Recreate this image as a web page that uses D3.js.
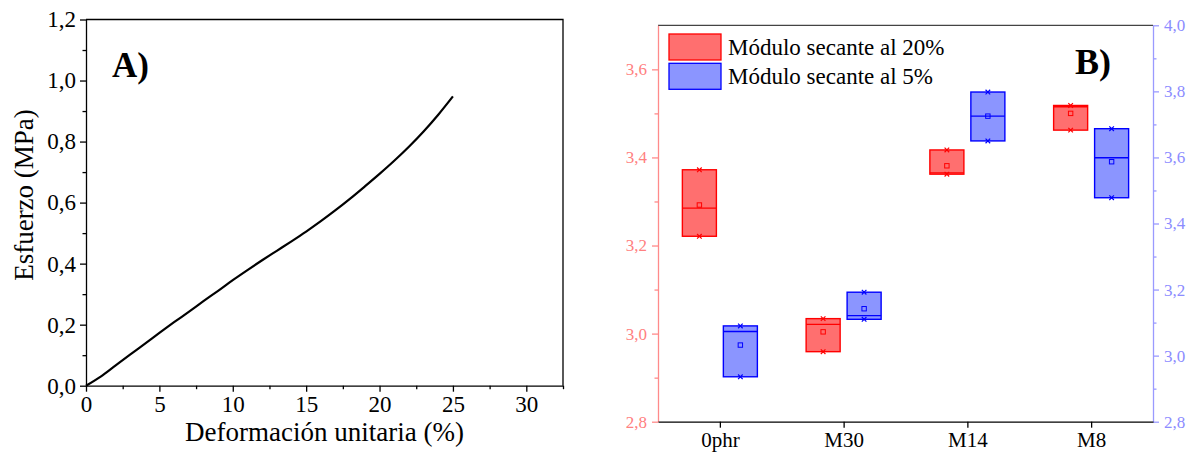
<!DOCTYPE html>
<html>
<head>
<meta charset="utf-8">
<script src="https://cdn.jsdelivr.net/npm/d3@7"></script>
<style>
  body { margin: 0; background: #fff; }
  svg { display: block; }
  .axA .domain, .axA line { stroke: #000; stroke-width: 1.3px; }
  .axL .domain, .axL line { stroke: #ff8a8a; stroke-width: 1.3px; }
  .axR .domain, .axR line { stroke: #9a9aff; stroke-width: 1.3px; }
  .axX .domain, .axX line { stroke: #000; stroke-width: 1.3px; }
</style>
</head>
<body>
<script>
// panel A: stress-strain curve
var strain = [0, 1, 2, 3, 4, 5, 6, 7, 8, 9, 10, 11, 12, 13, 14, 15, 16, 17, 18, 19, 20, 21, 22, 23, 24, 25];
var stress = [0, 0.030, 0.066, 0.102, 0.137, 0.173, 0.208, 0.242, 0.277, 0.311, 0.346, 0.379, 0.411, 0.442, 0.473, 0.505, 0.539, 0.575, 0.613, 0.653, 0.694, 0.737, 0.783, 0.833, 0.888, 0.948];
var strainTicks = [0, 5, 10, 15, 20, 25, 30];
var stressTicks = [0, 0.2, 0.4, 0.6, 0.8, 1.0, 1.2];

// panel B: secant modulus boxes
var categories = ["0phr", "M30", "M14", "M8"];
var series = ["Módulo secante al 20%", "Módulo secante al 5%"];
var min20 = [3.221, 2.959, 3.362, 3.462];
var max20 = [3.372, 3.034, 3.417, 3.518];
var med20 = [3.285, 3.021, 3.365, 3.515];
var mean20 = [3.292, 3.004, 3.381, 3.500];
var min5 = [2.936, 3.110, 3.650, 3.478];
var max5 = [3.090, 3.192, 3.798, 3.687];
var med5 = [3.073, 3.121, 3.725, 3.599];
var mean5 = [3.032, 3.142, 3.725, 3.587];
var leftTicks = [2.8, 3.0, 3.2, 3.4, 3.6];
var rightTicks = [2.8, 3.0, 3.2, 3.4, 3.6, 3.8, 4.0];

var serif = "'Liberation Serif', 'Times New Roman', serif";
var fmt = function(d) { return d3.format(".1f")(d).replace(".", ","); };

// restyle the tick labels d3 draws in sans-serif
function labels(g, size, colour) {
  g.attr("font-family", serif);
  g.selectAll("text")
    .style("font-family", serif)
    .style("font-size", size + "px")
    .attr("fill", colour);
}

var svg = d3.select("body").append("svg")
    .attr("width", 1195)
    .attr("height", 452)
    .style("font-family", serif);

// ---------- panel A ----------
var xA = d3.scaleLinear().domain([0, 32.5]).range([86, 563]);
var yA = d3.scaleLinear().domain([0, 1.2]).range([385.7, 19.5]);

var gA = svg.append("g");

// minor ticks
gA.append("g").attr("class", "axA")
    .attr("transform", "translate(0," + yA(0) + ")")
    .call(d3.axisBottom(xA).tickValues(d3.range(2.5, 33, 5)).tickSize(3.5).tickFormat(""))
    .select(".domain").remove();
gA.append("g").attr("class", "axA")
    .attr("transform", "translate(" + xA(0) + ",0)")
    .call(d3.axisLeft(yA).tickValues(d3.range(0.1, 1.2, 0.2)).tickSize(3.5).tickFormat(""))
    .select(".domain").remove();

gA.append("g").attr("class", "axA")
    .attr("transform", "translate(0," + yA(0) + ")")
    .call(d3.axisBottom(xA).tickValues(strainTicks).tickSize(6).tickSizeOuter(0).tickPadding(4))
    .call(labels, 23, "#000");
gA.append("g").attr("class", "axA")
    .attr("transform", "translate(" + xA(0) + ",0)")
    .call(d3.axisLeft(yA).tickValues(stressTicks).tickSize(6).tickSizeOuter(0).tickPadding(4).tickFormat(fmt))
    .call(labels, 23, "#000");

// frame top/right
gA.append("path")
    .attr("d", "M" + xA(0) + "," + yA(1.2) + "H" + xA(32.5) + "V" + yA(0))
    .attr("fill", "none").attr("stroke", "#000").attr("stroke-width", 1.3);

gA.append("path")
    .datum(d3.zip(strain, stress))
    .attr("fill", "none")
    .attr("stroke", "#000")
    .attr("stroke-width", 2.2)
    .attr("d", d3.line().curve(d3.curveCatmullRom)
        .x(function(d) { return xA(d[0]); })
        .y(function(d) { return yA(d[1]); }));

gA.append("text")
    .attr("x", (xA(0) + xA(32.5)) / 2).attr("y", 441)
    .attr("text-anchor", "middle")
    .style("font-size", "27px")
    .text("Deformación unitaria (%)");

gA.append("text")
    .attr("transform", "translate(33,195)rotate(-90)")
    .attr("text-anchor", "middle")
    .style("font-size", "27px")
    .text("Esfuerzo (MPa)");

gA.append("text")
    .attr("x", 112).attr("y", 77)
    .style("font-size", "35px").style("font-weight", "bold")
    .text("A)");

// ---------- panel B ----------
var xB = d3.scalePoint().domain(categories).range([658, 1153]).padding(0.5);
var inner = d3.scaleBand().domain(series).range([-37.5, 37.5]).paddingInner(0.17);
var yL = d3.scaleLinear().domain([2.8, 3.7]).range([421.7, 25.3]);
var yR = d3.scaleLinear().domain([2.8, 4.0]).range([421.7, 25.3]);

var gB = svg.append("g");

// top frame
gB.append("line")
    .attr("x1", 658).attr("x2", 1153).attr("y1", yL(3.7)).attr("y2", yL(3.7))
    .attr("stroke", "#444").attr("stroke-width", 1.3);

gB.append("g").attr("class", "axL")
    .attr("transform", "translate(658,0)")
    .call(d3.axisLeft(yL).tickValues(d3.range(2.9, 3.6, 0.2)).tickSize(3.5).tickFormat(""))
    .select(".domain").remove();
gB.append("g").attr("class", "axL")
    .attr("transform", "translate(658,0)")
    .call(d3.axisLeft(yL).tickValues(leftTicks).tickSize(6).tickSizeOuter(0).tickPadding(5).tickFormat(fmt))
    .call(labels, 17, "#ff8080");

gB.append("g").attr("class", "axR")
    .attr("transform", "translate(1153,0)")
    .call(d3.axisRight(yR).tickValues(d3.range(2.9, 4.0, 0.2)).tickSize(3.5).tickFormat(""))
    .select(".domain").remove();
gB.append("g").attr("class", "axR")
    .attr("transform", "translate(1153,0)")
    .call(d3.axisRight(yR).tickValues(rightTicks).tickSize(6).tickSizeOuter(0).tickPadding(5).tickFormat(fmt))
    .call(labels, 17, "#8c8cff");

gB.append("g").attr("class", "axX")
    .attr("transform", "translate(0," + yL(2.8) + ")")
    .call(d3.axisBottom(xB).tickSize(6).tickSizeOuter(0).tickPadding(4))
    .call(labels, 21, "#000");

var groups = [
  {name: series[0], y: yL, min: min20, max: max20, med: med20, mean: mean20, fill: "#ff6f6f", stroke: "#ff0000"},
  {name: series[1], y: yR, min: min5, max: max5, med: med5, mean: mean5, fill: "#8b95ff", stroke: "#0000ff"}
];

groups.forEach(function(s) {
  var rows = categories.map(function(c, i) {
    return {cat: c, min: s.min[i], max: s.max[i], med: s.med[i], mean: s.mean[i]};
  });
  var g = gB.append("g");
  var cx = function(d) { return xB(d.cat) + inner(s.name) + inner.bandwidth() / 2; };

  g.selectAll("rect.box").data(rows).enter().append("rect")
      .attr("x", function(d) { return xB(d.cat) + inner(s.name); })
      .attr("width", inner.bandwidth())
      .attr("y", function(d) { return s.y(d.max); })
      .attr("height", function(d) { return s.y(d.min) - s.y(d.max); })
      .attr("fill", s.fill)
      .attr("stroke", s.stroke)
      .attr("stroke-width", 1.4);

  g.selectAll("line.med").data(rows).enter().append("line")
      .attr("x1", function(d) { return xB(d.cat) + inner(s.name); })
      .attr("x2", function(d) { return xB(d.cat) + inner(s.name) + inner.bandwidth(); })
      .attr("y1", function(d) { return s.y(d.med); })
      .attr("y2", function(d) { return s.y(d.med); })
      .attr("stroke", s.stroke).attr("stroke-width", 1.4);

  // mean square
  g.selectAll("rect.mean").data(rows).enter().append("rect")
      .attr("x", function(d) { return cx(d) - 2.2; })
      .attr("y", function(d) { return s.y(d.mean) - 2.2; })
      .attr("width", 4.4).attr("height", 4.4)
      .attr("fill", "none").attr("stroke", s.stroke).attr("stroke-width", 1);

  // min / max crosses
  var ends = [];
  rows.forEach(function(d) { ends.push({cat: d.cat, v: d.min}); ends.push({cat: d.cat, v: d.max}); });
  g.selectAll("path.x").data(ends).enter().append("path")
      .attr("d", function(d) {
        var x0 = cx(d), y0 = s.y(d.v), r = 2.3;
        return "M" + (x0 - r) + "," + (y0 - r) + "L" + (x0 + r) + "," + (y0 + r) +
               "M" + (x0 - r) + "," + (y0 + r) + "L" + (x0 + r) + "," + (y0 - r);
      })
      .attr("stroke", s.stroke).attr("stroke-width", 1.2);
});

// legend
var leg = gB.append("g").selectAll("g").data(groups).enter().append("g")
    .attr("transform", function(d, i) { return "translate(669," + (34 + i * 29.3) + ")"; });
leg.append("rect")
    .attr("width", 52).attr("height", 26)
    .attr("fill", function(d) { return d.fill; })
    .attr("stroke", function(d) { return d.stroke; })
    .attr("stroke-width", 1.3);
leg.append("text")
    .attr("x", 59).attr("y", 21)
    .style("font-size", "23px")
    .text(function(d) { return d.name; });

gB.append("text")
    .attr("x", 1075).attr("y", 74)
    .style("font-size", "36px").style("font-weight", "bold")
    .text("B)");
</script>
</body>
</html>
